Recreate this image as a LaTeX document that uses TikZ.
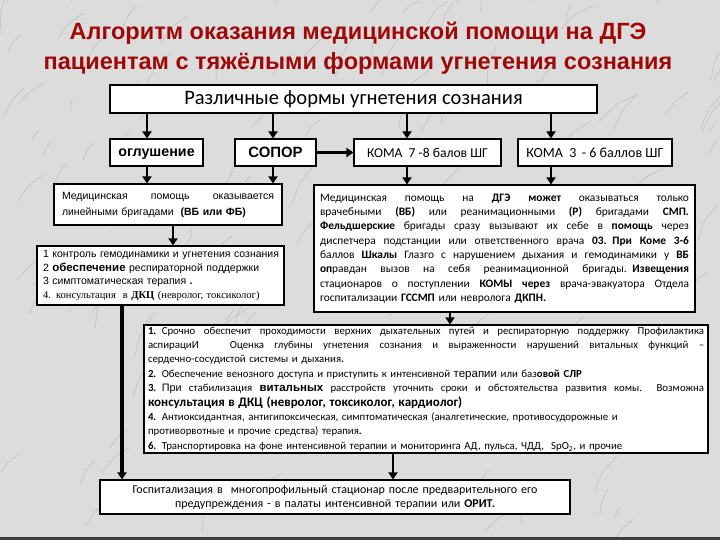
\documentclass[tikz,border=0pt]{standalone}
\usepackage{fontspec}
\setmainfont{Carlito}
\newfontfamily\arialf{Liberation Sans}
\newfontfamily\tnrf{Liberation Serif}
\usetikzlibrary{arrows.meta}
\definecolor{bg}{RGB}{220,220,220}
\definecolor{veincol}{RGB}{150,150,150}
\definecolor{ttl}{RGB}{160,8,8}
\newcommand\fs[2]{\fontsize{#1}{#2}\selectfont}
\newcommand\JL[1]{\hbox to\hsize{\spaceskip=0.25em plus 1fil\relax #1}}
\newcommand\NL[1]{\hbox{#1}}
\begin{document}
\begin{tikzpicture}[x=1pt,y=-1pt,
  box/.style={draw=black,line width=1.1pt,fill=white,inner ysep=0pt},
  arr/.style={line width=2.4pt,-{Triangle[width=9pt,length=7pt]}},
  veinline/.style={draw=veincol,line width=0.5pt,opacity=0.45,rounded corners=4pt}]
\useasboundingbox (0,0) rectangle (720,540);
\fill[bg] (0,0) rectangle (720,540);
\pgfmathsetseed{11}
\foreach \i in {1,...,170}{
  \pgfmathsetmacro\xa{rnd*720}
  \pgfmathsetmacro\ya{rnd*540}
  \pgfmathsetmacro\len{12+rnd*40}
  \pgfmathsetmacro\ang{-(45+rnd*45)}
  \draw[veinline] (\xa,\ya) -- ++(\ang:\len*0.5) -- ++(\ang+20:\len*0.5);
}
\fill[black!75] (0,537) rectangle (720,540);
% title
\node[font=\arialf\bfseries\fs{23.5}{30},text=ttl,align=center] (title) at (358,48)
  {Алгоритм оказания медицинской помощи на ДГЭ\\пациентам с тяжёлыми формами угнетения сознания};
% top box
\node[box,minimum width=487pt,minimum height=28pt] (top) at (353.5,99)
  {\fs{20.5}{22}Различные формы угнетения сознания};
% second row
\node[box,minimum width=93pt,minimum height=27pt,text depth=0pt,font=\arialf\bfseries\fs{14.3}{16}] (otup) at (156.5,152.5) {оглушение};
\node[box,minimum width=81pt,minimum height=27pt,font=\arialf\bfseries\fs{14.9}{17}] (sopor) at (275.5,152.5) {СОПОР};
\node[box,minimum width=147pt,minimum height=27pt,font=\fs{13.6}{16}] (koma1) at (427.5,152.5) {КОМА\ \ 7 -8 балов ШГ};
\node[box,minimum width=154pt,minimum height=27pt,font=\fs{14}{16}] (koma2) at (595,152.5) {КОМА\ \ 3 \,- 6 баллов ШГ};
% box A
\node[box,inner xsep=8pt,text width=212pt,minimum height=41pt,font=\arialf\fs{10.5}{16}] (boxA) at (168,204.5)
  {\vbox{\JL{Медицинская помощь оказывается}\NL{линейными бригадами\ \ {\bfseries(ВБ или ФБ)}}}};
% box B
\node[box,inner xsep=6pt,text width=369pt,minimum height=127pt,font=\fs{11.4}{14.3}] (boxB) at (504.5,248.5)
  {\vbox{\JL{Медицинская помощь на \textbf{ДГЭ} \textbf{может} оказываться только}%
   \JL{врачебными \textbf{(ВБ)} или реанимационными \textbf{(Р)} бригадами \textbf{СМП.}}%
   \JL{\textbf{Фельдшерские} бригады сразу вызывают их себе в \textbf{помощь} через}%
   \JL{диспетчера подстанции или ответственного врача \textbf{03. При Коме 3-6}}%
   \JL{баллов \textbf{Шкалы} Глазго с нарушением дыхания и гемодинамики у \textbf{ВБ}}%
   \JL{\textbf{оп}равдан вызов на себя реанимационной бригады. \textbf{Извещения}}%
   \JL{стационаров о поступлении \textbf{КОМЫ через} врача-эвакуатора Отдела}%
   \NL{госпитализации \textbf{ГССМП} или невролога \textbf{ДКПН.}}}};
% box C
\node[box,inner xsep=6pt,text width=235pt,minimum height=59pt,font=\arialf\fs{10.5}{13.7}] (boxC) at (160.5,275.5)
  {\vbox{\NL{1 контроль гемодинамики и угнетения сознания}%
   \NL{2 {\bfseries\fs{11.5}{13.7}обеспечение} респираторной поддержки}%
   \NL{3 симптоматическая терапия \textbf{.}}%
   \NL{\tnrf 4. консультация\ \ в \textbf{ДКЦ} (невролог, токсиколог)}}};
% box D
\node[box,inner xsep=4pt,text width=556pt,minimum height=128pt,font=\fs{10.8}{14.4}] (boxD) at (426,389)
  {\vbox{\JL{\textbf{1.} Срочно обеспечит проходимости верхних дыхательных путей и респираторную поддержку Профилактика}%
   \JL{аспирациИ\ \ \ Оценка глубины угнетения сознания и выраженности нарушений витальных функций --}%
   \NL{сердечно-сосудистой системы и дыхания\textbf{.}}%
   \NL{\textbf{2.} Обеспечение венозного доступа и приступить к интенсивной {\arialf\fs{11.5}{14.4}терапии} или баз\textbf{овой СЛР}}%
   \JL{\textbf{3.} {\arialf При} стабилизация {\arialf\bfseries\fs{11.5}{14.4}витальных} расстройств уточнить сроки и обстоятельства развития комы.\ \ Возможна}%
   \NL{\textbf{\fs{13}{14.4}консультация в ДКЦ (невролог, токсиколог, кардиолог)}}%
   \NL{\textbf{4.} Антиоксидантная, антигипоксическая, симптоматическая (аналгетические, противосудорожные и}%
   \NL{противорвотные и прочие средства) терапия\textbf{.}}%
   \NL{\textbf{6.} Транспортировка на фоне интенсивной терапии и мониторинга АД, пульса, ЧДД,\ \ SpO\textsubscript{2}, и прочие}}};
% box E
\node[box,inner xsep=6pt,text width=458pt,minimum height=34pt,align=center,font=\fs{12}{14}] (boxE) at (335,497)
  {Госпитализация в\ \ многопрофильный стационар после предварительного его\\предупреждения - в палаты интенсивной терапии или \textbf{ОРИТ.}};
% arrow columns
\coordinate (c1) at (147,0);
\coordinate (c2) at (273,0);
\coordinate (c3) at (407,0);
\coordinate (c4) at (551,0);
\coordinate (c5) at (173,0);
\coordinate (c6) at (122,0);
\coordinate (c7) at (450,0);
\coordinate (c8) at (393,0);
\draw[arr] (top.south -| c1) -- (otup.north -| c1);
\draw[arr] (top.south -| c2) -- (sopor.north -| c2);
\draw[arr] (top.south -| c3) -- (koma1.north -| c3);
\draw[arr] (top.south -| c4) -- (koma2.north -| c4);
\draw[arr] (sopor.east) -- (koma1.west);
\draw[arr] (otup.south -| c1) -- (boxA.north -| c1);
\draw[arr] (sopor.south -| c2) -- (boxA.north -| c2);
\draw[arr] (koma1.south -| c3) -- (boxB.north -| c3);
\draw[arr] (koma2.south -| c4) -- (boxB.north -| c4);
\draw[arr] (boxA.south -| c5) -- (boxC.north -| c5);
\draw[arr] (boxB.south -| c7) -- (boxD.north -| c7);
\draw[arr,line width=3.4pt] (boxC.south -| c6) -- (boxE.north -| c6);
\draw[arr] (boxD.south -| c8) -- (boxE.north -| c8);
\end{tikzpicture}
\end{document}
